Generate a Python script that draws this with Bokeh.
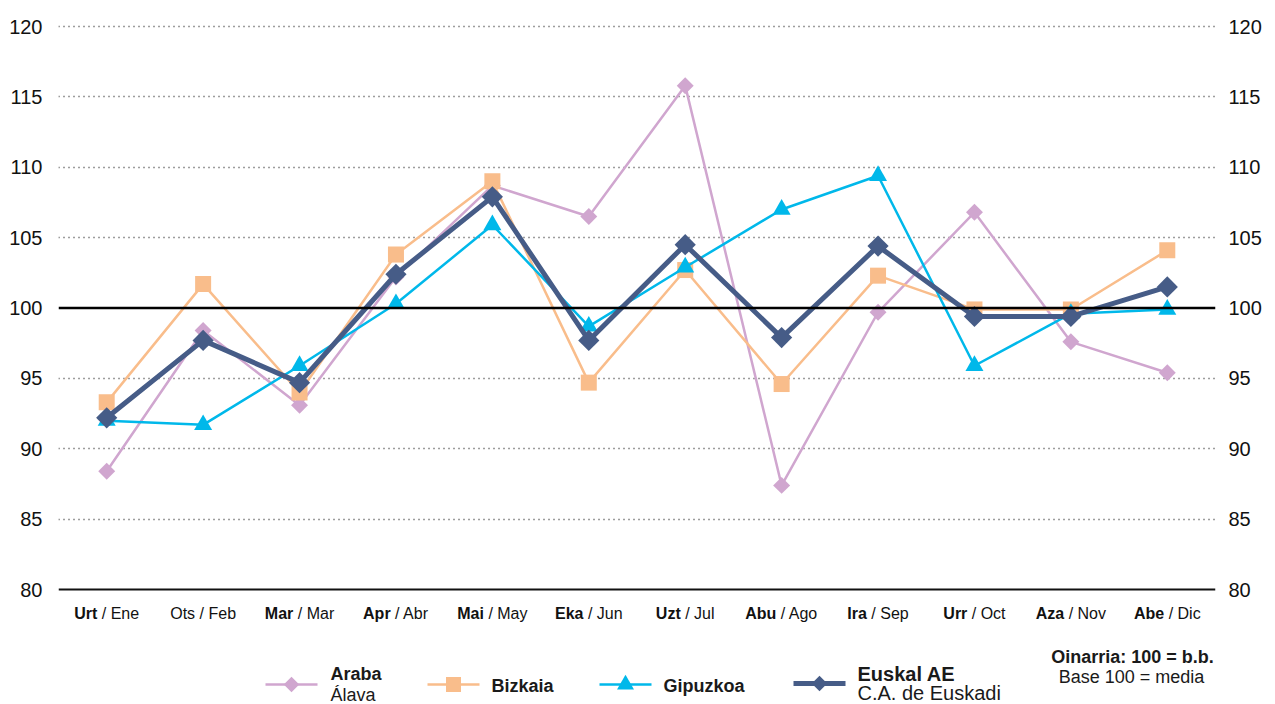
import numpy as np
from bokeh.plotting import figure
from bokeh.models import FactorRange, Range1d, LinearAxis, FixedTicker, Span, ColumnDataSource
from bokeh.layouts import column
from bokeh.embed import file_html
from bokeh.resources import INLINE
from bokeh.core.properties import value

# ---------------- data ----------------
eu_labels = ["Urt", "Ots", "Mar", "Apr", "Mai", "Eka", "Uzt", "Abu", "Ira", "Urr", "Aza", "Abe"]
es_labels = ["Ene", "Feb", "Mar", "Abr", "May", "Jun", "Jul", "Ago", "Sep", "Oct", "Nov", "Dic"]
eu_bold = [True, False, True, True, True, True, True, True, True, True, True, True]

araba = [88.4, 98.4, 93.1, 102.2, 108.7, 106.5, 115.8, 87.4, 99.7, 106.8, 97.6, 95.4]
bizkaia = [93.3, 101.7, 94.0, 103.8, 109.0, 94.7, 102.7, 94.6, 102.3, 99.9, 99.9, 104.1]
gipuzkoa = [92.0, 91.7, 95.9, 100.3, 105.9, 98.7, 102.9, 107.0, 109.4, 95.9, 99.6, 99.9]
euskadi = [92.2, 97.7, 94.7, 102.4, 107.9, 97.7, 104.5, 97.9, 104.4, 99.4, 99.4, 101.5]

y_ticks = [80, 85, 90, 95, 100, 105, 110, 115, 120]
series_names = ["Araba", "Bizkaia", "Gipuzkoa", "Euskal AE"]
series_sub = ["Álava", "", "", "C.A. de Euskadi"]
base_note = ["Oinarria: 100 = b.b.", "Base 100 = media"]

# ---------------- style ----------------
FONT = "Liberation Sans"
C_ARABA = "#D0A6CF"
C_BIZKAIA = "#F9BD8B"
C_GIPUZKOA = "#00B8EA"
C_EUSKADI = "#465C87"

factors = [f"{e} / {s}" for e, s in zip(eu_labels, es_labels)]

W = 1275
H_MAIN = 644
H_LEG = 60
ML, MR, MT = 58, 60, 19
SCALE = 563 / 40.0          # px per unit
Y_END = 120.5
Y_START = Y_END - (H_MAIN - MT) / SCALE

p = figure(width=W, height=H_MAIN, x_range=FactorRange(*factors, range_padding=0),
           y_range=Range1d(Y_START, Y_END), output_backend="svg", toolbar_location=None,
           x_axis_location=None, y_axis_location="left",
           min_border_left=ML, min_border_right=MR, min_border_top=MT, min_border_bottom=0)
p.frame_align = False
p.outline_line_color = None
p.background_fill_color = "white"
p.border_fill_color = "white"
p.xgrid.visible = False
p.ygrid.ticker = FixedTicker(ticks=[t for t in y_ticks if t not in (80, 100)])
p.ygrid.grid_line_color = "#3a3a3a"
p.ygrid.grid_line_dash = "1 4"
p.ygrid.grid_line_width = 1.3

def style_axis(ax, standoff):
    ax.ticker = FixedTicker(ticks=y_ticks)
    ax.axis_line_color = None
    ax.major_tick_line_color = None
    ax.minor_tick_line_color = None
    ax.major_tick_out = 0
    ax.major_tick_in = 0
    ax.major_label_standoff = standoff
    ax.major_label_text_font = FONT
    ax.major_label_text_font_size = "20px"
    ax.major_label_text_color = "#111111"

style_axis(p.yaxis[0], 16)
rax = LinearAxis()
style_axis(rax, 13)
p.add_layout(rax, "right")

p.add_layout(Span(location=100, dimension="width", line_color="black", line_width=2.5))
p.add_layout(Span(location=80, dimension="width", line_color="#111111", line_width=2))

src = ColumnDataSource(dict(x=factors, araba=araba, bizkaia=bizkaia,
                            gipuzkoa=gipuzkoa, euskadi=euskadi))

p.line("x", "araba", source=src, line_color=C_ARABA, line_width=2.5)
p.scatter("x", "araba", source=src, marker="square", angle=np.pi / 4, size=12,
          fill_color=C_ARABA, line_color=None)
p.line("x", "bizkaia", source=src, line_color=C_BIZKAIA, line_width=2.5)
p.scatter("x", "bizkaia", source=src, marker="square", size=16,
          fill_color=C_BIZKAIA, line_color=None)
p.line("x", "gipuzkoa", source=src, line_color=C_GIPUZKOA, line_width=2.5)
p.scatter("x", "gipuzkoa", source=src, marker="triangle", size=18,
          fill_color=C_GIPUZKOA, line_color=None)
p.line("x", "euskadi", source=src, line_color=C_EUSKADI, line_width=5)
p.scatter("x", "euskadi", source=src, marker="square", angle=np.pi / 4, size=15,
          fill_color=C_EUSKADI, line_color=None)

# ---- month labels (bold Basque part + regular Spanish part), Arial metrics ----
REG = {' ': 278, '/': 278, 'E': 667, 'n': 556, 'e': 556, 'O': 778, 't': 278, 's': 500,
       'F': 611, 'b': 556, 'M': 833, 'a': 556, 'r': 333, 'A': 667, 'y': 500, 'J': 500,
       'u': 556, 'l': 222, 'g': 556, 'o': 556, 'S': 667, 'p': 556, 'N': 722, 'v': 500,
       'D': 722, 'i': 222, 'c': 500, 'U': 722, 'z': 500, 'k': 500, 'I': 278, 'B': 667}
BLD = {'U': 722, 'r': 389, 't': 333, 'M': 833, 'a': 556, 'A': 722, 'p': 611, 'i': 278,
       'E': 667, 'k': 556, 'I': 278, 'z': 500, 'b': 611, 'e': 556, 'O': 778, 's': 556,
       'u': 611}

FS = 16
def tw(s, bold):
    tab = BLD if bold else REG
    return sum(tab.get(ch, 556) for ch in s) / 1000.0 * FS

bnd, offs2, styles = [], [], []
for e, s, b in zip(eu_labels, es_labels, eu_bold):
    wb = tw(e, b)
    wn = tw(" / " + s, False)
    o = (wb - wn) / 2.0
    bnd.append(o)
    offs2.append(o + tw(" ", False))
    styles.append("bold" if b else "normal")

label_y = 80 - 24 / SCALE
lab_src = ColumnDataSource(dict(x=factors, y=[label_y] * 12, eu=eu_labels,
                                es=["/ " + s for s in es_labels],
                                o1=bnd, o2=offs2, st=styles))
p.text("x", "y", text="eu", source=lab_src, x_offset="o1", text_align="right",
       text_baseline="middle", text_font=value(FONT), text_font_size="16px",
       text_font_style="st", text_color="#111111")
p.text("x", "y", text="es", source=lab_src, x_offset="o2", text_align="left",
       text_baseline="middle", text_font=value(FONT), text_font_size="16px",
       text_color="#111111")

# ---------------- legend figure (1 unit = 1 px) ----------------
lg = figure(width=W, height=H_LEG, x_range=Range1d(0, W), y_range=Range1d(0, H_LEG),
            output_backend="svg", toolbar_location=None, x_axis_location=None,
            y_axis_location=None, min_border=0)
lg.frame_align = False
lg.outline_line_color = None
lg.grid.visible = False

def leg_item(x0, y, color, lw, marker, size, angle=0.0):
    lg.segment(x0=[x0], y0=[y], x1=[x0 + 52], y1=[y], line_color=color, line_width=lw)
    lg.scatter(x=[x0 + 26], y=[y], marker=marker, size=size, angle=angle,
               fill_color=color, line_color=None)

leg_item(265, 20, C_ARABA, 2.5, "square", 11, np.pi / 4)
leg_item(427, 20, C_BIZKAIA, 2.5, "square", 15)
leg_item(599, 20, C_GIPUZKOA, 2.5, "triangle", 17)
leg_item(793, 21, C_EUSKADI, 5, "square", 11, np.pi / 4)

def ltxt(x, y, t, size, bold, align="left"):
    lg.text(x=[x], y=[y], text=[t], text_font=value(FONT), text_font_size=f"{size}px",
            text_font_style="bold" if bold else "normal", text_align=align,
            text_baseline="middle", text_color="#1a1a1a")

ltxt(330, 30.5, series_names[0], 18, True)
ltxt(330, 10, series_sub[0], 18, False)
ltxt(491, 18.5, series_names[1], 18, True)
ltxt(663, 18.5, series_names[2], 18, True)
ltxt(857, 31, series_names[3], 20, True)
ltxt(857, 11.5, series_sub[3], 20, False)
ltxt(1132, 48, base_note[0], 18, True, "center")
ltxt(1131, 28, base_note[1], 18, False, "center")

layout = column(p, lg, spacing=0)
open("out.html", "w").write(file_html(layout, INLINE))
